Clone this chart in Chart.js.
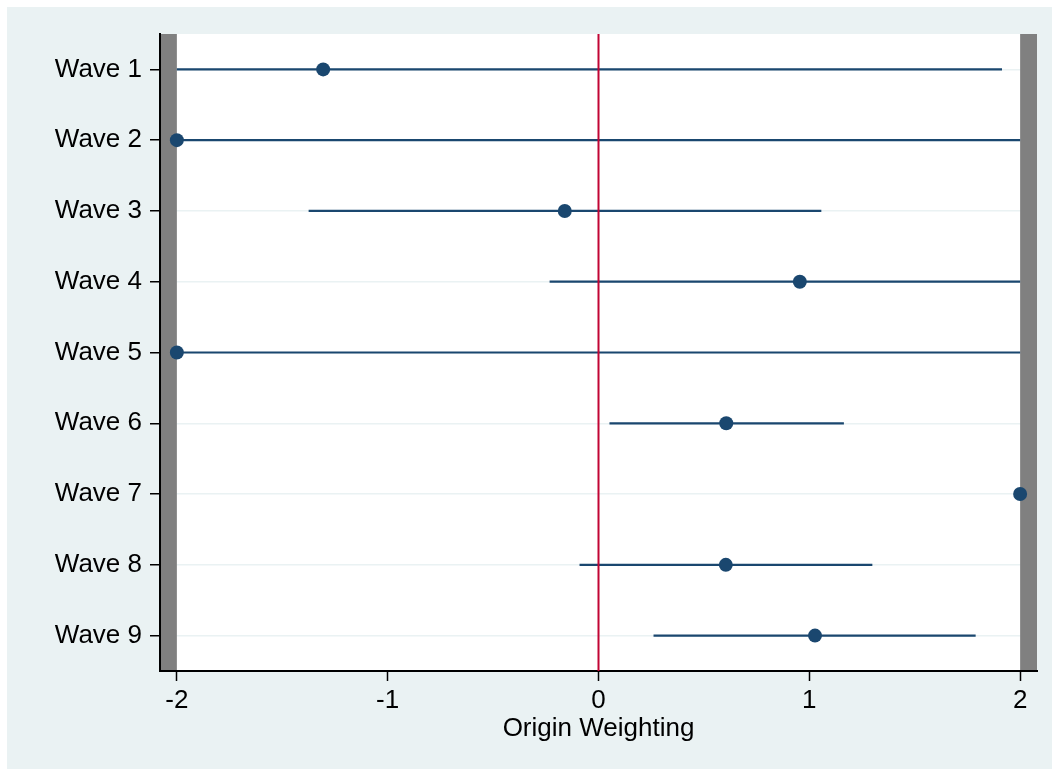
<!DOCTYPE html>
<html>
<head>
<meta charset="utf-8">
<title>Origin Weighting by Wave</title>
<script src="https://cdn.jsdelivr.net/npm/chart.js@4.4.1/dist/chart.umd.min.js"></script>
<style>
    html, body { margin: 0; padding: 0; background: #fff; }
    #wrap { position: absolute; left: 0; top: 0; width: 1052px; height: 769px; }
</style>
</head>
<body>
<div id="wrap"><canvas id="coefChart" width="1052" height="769"></canvas></div>
<script>
// values
const waveLabels = ['Wave 1', 'Wave 2', 'Wave 3', 'Wave 4', 'Wave 5', 'Wave 6', 'Wave 7', 'Wave 8', 'Wave 9'];
const estimates = [-1.306, -2, -0.160, 0.955, -2, 0.606, 2, 0.604, 1.027];
const ciLow = [-2, -2, -1.375, -0.232, -2, 0.052, null, -0.090, 0.261];
const ciHigh = [1.914, 2, 1.057, 2, 2, 1.164, null, 1.299, 1.789];
const xTicks = [-2, -1, 0, 1, 2];
const xLimits = [-2.08, 2.08];
const refLine = 0;

const navy = '#1a476f';
const bgColor = '#eaf2f3';

document.addEventListener('DOMContentLoaded', () => {
    const ctx = document.getElementById('coefChart').getContext('2d');

    Chart.defaults.font.family = '"Liberation Sans", Arial, Helvetica, sans-serif';
    Chart.defaults.color = '#000';

    // build data from the arrays above
    const points = estimates.map((v, i) => ({ x: v, y: i + 1 }));
    const ciSegments = [];
    ciLow.forEach((lo, i) => {
        if (lo === null || ciHigh[i] === null) return;
        ciSegments.push({ x: lo, y: i + 1 });
        ciSegments.push({ x: ciHigh[i], y: i + 1 });
        ciSegments.push({ x: null, y: null });
    });
    const zeroLine = [
        { x: refLine, y: 0.5 },
        { x: refLine, y: waveLabels.length + 0.5 }
    ];

    // page background + white plot region
    const backdrop = {
        id: 'backdrop',
        beforeDraw(chart) {
            const c = chart.ctx;
            const a = chart.chartArea;
            c.save();
            c.fillStyle = '#fff';
            c.fillRect(0, 0, chart.width, chart.height);
            c.fillStyle = bgColor;
            c.fillRect(7, 7, chart.width - 7, chart.height - 7);
            c.fillStyle = '#fff';
            c.fillRect(a.left, a.top, a.right - a.left, a.bottom - a.top);
            c.restore();
        }
    };

    // grey bands outside the -2..2 range
    const outOfRange = {
        id: 'outOfRange',
        beforeDatasetsDraw(chart) {
            const c = chart.ctx;
            const a = chart.chartArea;
            const xs = chart.scales.x;
            const lo = xs.getPixelForValue(xTicks[0]);
            const hi = xs.getPixelForValue(xTicks[xTicks.length - 1]);
            c.save();
            c.fillStyle = '#808080';
            c.fillRect(a.left + 1, a.top, lo - a.left - 1, a.bottom - a.top - 1);
            c.fillRect(hi, a.top, a.right - hi, a.bottom - a.top - 1);
            c.restore();
        }
    };

    new Chart(ctx, {
        type: 'scatter',
        data: {
            datasets: [
                {
                    label: 'Estimate',
                    data: points,
                    pointRadius: 7,
                    pointHoverRadius: 7,
                    pointBackgroundColor: navy,
                    pointBorderWidth: 0,
                    order: 1
                },
                {
                    label: 'Zero',
                    data: zeroLine,
                    showLine: true,
                    borderColor: '#c10534',
                    borderWidth: 2,
                    pointRadius: 0,
                    order: 2
                },
                {
                    label: 'CI',
                    data: ciSegments,
                    showLine: true,
                    spanGaps: false,
                    borderColor: navy,
                    borderWidth: 2.2,
                    pointRadius: 0,
                    order: 3
                }
            ]
        },
        options: {
            responsive: false,
            animation: false,
            events: [],
            layout: { padding: { left: 0, top: 34, right: 15, bottom: 0 } },
            plugins: {
                legend: { display: false },
                tooltip: { enabled: false }
            },
            scales: {
                x: {
                    type: 'linear',
                    position: 'bottom',
                    min: xLimits[0],
                    max: xLimits[1],
                    afterBuildTicks: (s) => { s.ticks = xTicks.map(v => ({ value: v })); },
                    afterFit: (s) => { s.height = 98; },
                    grid: {
                        drawOnChartArea: false,
                        tickLength: 10,
                        tickColor: '#000',
                        tickWidth: 1.5
                    },
                    border: { display: true, color: '#000', width: 2 },
                    ticks: {
                        color: '#000',
                        font: { size: 26 },
                        padding: 4,
                        maxRotation: 0,
                        autoSkip: false
                    },
                    title: {
                        display: true,
                        text: 'Origin Weighting',
                        color: '#000',
                        font: { size: 26 },
                        padding: { top: 0, bottom: 25 }
                    }
                },
                y: {
                    type: 'linear',
                    reverse: true,
                    min: 0.5,
                    max: waveLabels.length + 0.5,
                    afterBuildTicks: (s) => { s.ticks = waveLabels.map((_, i) => ({ value: i + 1 })); },
                    afterFit: (s) => { s.width = 160; },
                    grid: {
                        color: bgColor,
                        lineWidth: 1.5,
                        tickLength: 10,
                        tickColor: '#000',
                        tickWidth: 1.5
                    },
                    border: { display: true, color: '#000', width: 2 },
                    ticks: {
                        color: '#000',
                        font: { size: 26 },
                        padding: 8,
                        autoSkip: false,
                        callback: (v) => waveLabels[Math.round(v) - 1]
                    }
                }
            }
        },
        plugins: [backdrop, outOfRange]
    });
});
</script>
</body>
</html>
